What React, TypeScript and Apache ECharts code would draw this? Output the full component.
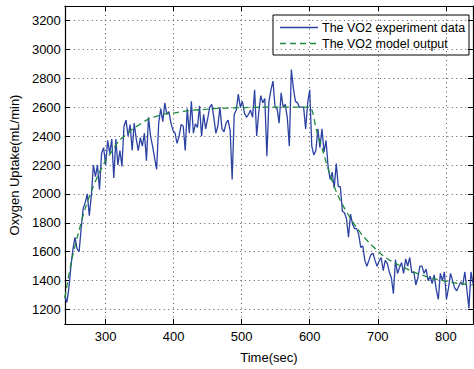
import React, { useEffect, useRef } from "react";
import * as echarts from "echarts";

// Measured VO2 (mL/min), sampled every 3 s from 240 s to 840 s
const T_START = 240;
const T_STEP = 3;
const vo2Data = [
  1290, 1250, 1350, 1500, 1620, 1700, 1620, 1600, 1760, 1900,
  1940, 2000, 1850, 1990, 2200, 2120, 2200, 2030, 2280, 2320,
  2200, 2370, 2280, 2380, 2110, 2380, 2200, 2300, 2190, 2470,
  2510, 2400, 2480, 2300, 2490, 2380, 2300, 2390, 2330, 2420,
  2230, 2530, 2400, 2330, 2250, 2170, 2490, 2590, 2500, 2630,
  2550, 2570, 2490, 2440, 2420, 2350, 2400, 2480, 2470, 2300,
  2590, 2420, 2640, 2420, 2485, 2460, 2610, 2400, 2550, 2450,
  2520, 2600, 2620, 2530, 2420, 2470, 2600, 2450, 2430, 2490,
  2510, 2440, 2100, 2550, 2580, 2690, 2600, 2640, 2560, 2530,
  2550, 2580, 2530, 2720, 2400, 2560, 2680, 2630, 2660, 2260,
  2640, 2720, 2780, 2600, 2590, 2490, 2700, 2600, 2620, 2530,
  2330, 2860, 2730, 2640, 2630, 2600, 2600, 2600, 2450, 2630,
  2720, 2330, 2270, 2300, 2450, 2320, 2450, 2290, 2370, 2190,
  2100, 2150, 2040, 2210, 2050, 2050, 1880, 1870, 1830, 1700,
  1860, 1790, 1760, 1760, 1720, 1630, 1640, 1540, 1500, 1540,
  1580, 1590, 1540, 1500, 1536, 1560, 1470, 1540, 1520, 1460,
  1420, 1310, 1545, 1450, 1490, 1525, 1450, 1550, 1500, 1560,
  1455, 1460, 1370, 1420, 1500, 1500, 1450, 1480, 1400, 1430,
  1380, 1440, 1340, 1270, 1450, 1400, 1460, 1270, 1350, 1450,
  1400, 1350, 1330, 1360, 1390, 1370, 1460, 1340, 1210, 1460,
  1380,
];

// Model output (mL/min), sampled every 10 s from 240 s to 840 s
const M_START = 240;
const M_STEP = 10;
const modelData = [
  1280, 1540, 1730, 1900, 2030, 2140, 2230, 2300, 2370, 2410,
  2450, 2480, 2510, 2530, 2545, 2555, 2560, 2568, 2575, 2580,
  2583, 2586, 2590, 2592, 2594, 2596, 2597, 2598, 2599, 2600,
  2600, 2600, 2600, 2600, 2600, 2600, 2600, 2440, 2285, 2130,
  2005, 1910, 1830, 1760, 1700, 1650, 1605, 1565, 1535, 1510,
  1488, 1465, 1447, 1430, 1415, 1405, 1395, 1387, 1380, 1375,
  1370,
];

const seriesNames = ["The VO2 experiment data", "The VO2 model output"];
const xRange = [240, 840];
const yRange = [1100, 3300];

const FONT = "'Liberation Sans', Arial, Helvetica, sans-serif";
const FS = 13;
const LEGEND_FS = 12.5;
const BLUE = "#2c42a3";
const GREEN = "#1e8a3c";

export default function App() {
  const ref = useRef<HTMLDivElement>(null);

  useEffect(() => {
    if (!ref.current) return;
    const chart = echarts.init(ref.current, undefined, { renderer: "svg" });

    const vo2Pairs = vo2Data.map((v, i) => [T_START + i * T_STEP, v]);
    const modelPairs = modelData.map((v, i) => [M_START + i * M_STEP, v]);

    const tickStyle = { show: true, inside: true, length: 5, lineStyle: { color: "#000", width: 1 } };
    const axisLineStyle = { show: true, onZero: false, lineStyle: { color: "#000", width: 1.2 } };
    const gridLine = { show: true, lineStyle: { color: "#555", width: 1, type: [1, 3.5] as any } };
    const labelStyle = {
      showMinLabel: false,
      showMaxLabel: false,
      fontFamily: FONT,
      fontSize: FS,
      color: "#000",
      formatter: (v: number) => String(v),
    };

    // legend box geometry
    const LX = 273, LY = 15, LW = 196, LH = 40;
    const rowY = [LY + 12.5, LY + 28.5];

    chart.setOption({
      animation: false,
      backgroundColor: "#fff",
      textStyle: { fontFamily: FONT },
      grid: { left: 64, top: 6, right: 1, bottom: 39, containLabel: false },
      xAxis: [
        {
          type: "value",
          min: xRange[0],
          max: xRange[1],
          splitNumber: 6,
          name: "Time(sec)",
          nameLocation: "middle",
          nameGap: 27,
          nameTextStyle: { fontFamily: FONT, fontSize: FS, color: "#000" },
          axisLine: axisLineStyle,
          axisTick: tickStyle,
          axisLabel: { ...labelStyle, margin: 6 },
          splitLine: gridLine,
        },
        {
          type: "value",
          position: "top",
          min: xRange[0],
          max: xRange[1],
          splitNumber: 6,
          axisLine: axisLineStyle,
          axisTick: tickStyle,
          axisLabel: { show: false },
          splitLine: { show: false },
        },
      ],
      yAxis: [
        {
          type: "value",
          min: yRange[0],
          max: yRange[1],
          splitNumber: 11,
          name: "Oxygen Uptake(mL/min)",
          nameLocation: "middle",
          nameGap: 33,
          nameTextStyle: { fontFamily: FONT, fontSize: FS, color: "#000" },
          axisLine: axisLineStyle,
          axisTick: tickStyle,
          axisLabel: { ...labelStyle, margin: 4 },
          splitLine: gridLine,
        },
        {
          type: "value",
          position: "right",
          min: yRange[0],
          max: yRange[1],
          splitNumber: 11,
          axisLine: axisLineStyle,
          axisTick: tickStyle,
          axisLabel: { show: false },
          splitLine: { show: false },
        },
      ],
      series: [
        {
          name: seriesNames[0],
          type: "line",
          data: vo2Pairs,
          showSymbol: false,
          symbol: "none",
          lineStyle: { color: BLUE, width: 1.3 },
          itemStyle: { color: BLUE },
          z: 2,
        },
        {
          name: seriesNames[1],
          type: "line",
          data: modelPairs,
          smooth: 0.3,
          showSymbol: false,
          symbol: "none",
          lineStyle: { color: GREEN, width: 1.3, type: [6, 4] as any },
          itemStyle: { color: GREEN },
          z: 3,
        },
      ],
      graphic: [
        {
          type: "group",
          z: 100,
          children: [
            {
              type: "rect",
              shape: { x: LX, y: LY, width: LW, height: LH },
              style: { fill: "#fff", stroke: "#000", lineWidth: 1 },
            },
            {
              type: "line",
              shape: { x1: LX + 7, y1: rowY[0], x2: LX + 45, y2: rowY[0] },
              style: { stroke: BLUE, lineWidth: 1.3 },
            },
            {
              type: "line",
              shape: { x1: LX + 7, y1: rowY[1], x2: LX + 45, y2: rowY[1] },
              style: { stroke: GREEN, lineWidth: 1.3, lineDash: [6, 4] },
            },
            {
              type: "text",
              x: LX + 49,
              y: rowY[0],
              style: { text: seriesNames[0], font: `${LEGEND_FS}px ${FONT}`, fill: "#000", verticalAlign: "middle", align: "left" },
            },
            {
              type: "text",
              x: LX + 49,
              y: rowY[1],
              style: { text: seriesNames[1], font: `${LEGEND_FS}px ${FONT}`, fill: "#000", verticalAlign: "middle", align: "left" },
            },
          ],
        },
      ],
    });

    return () => chart.dispose();
  }, []);

  return (
    <div
      ref={ref}
      style={{ position: "absolute", left: 0, top: 0, width: 474, height: 369 }}
    />
  );
}
